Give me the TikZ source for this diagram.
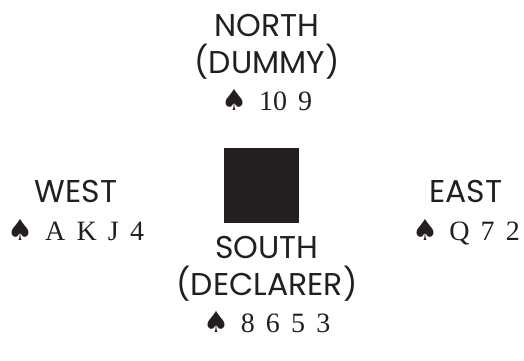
\documentclass[tikz,border=0pt]{standalone}
\usepackage{fontspec}
\usepackage{tikz}
\usetikzlibrary{positioning}
\newfontfamily\seatfont{Poppins}
\newfontfamily\rankfont[WordSpace=1.6]{Liberation Serif}
\newfontfamily\suitfont{DejaVu Sans}
\definecolor{tableInk}{HTML}{231F20}
\newcommand{\spadeMark}{{\suitfont\fontsize{29}{37}\selectfont\char"2660}}
\newcommand{\hand}[1]{{\rankfont\fontsize{28}{37}\selectfont\spadeMark\ #1}}
\tikzset{
  seatLabel/.style={
    align=center,
    text=tableInk,
    inner sep=0pt,
    font=\seatfont\fontsize{31.5}{37}\selectfont
  },
  tableBox/.style={
    fill=tableInk,
    draw=none,
    minimum size=75pt,
    inner sep=0pt
  }
}
\begin{document}
\begin{tikzpicture}[x=1pt, y=-1pt]
    \useasboundingbox (0,0) rectangle (524,360);
    \node[tableBox] (table) at (261.5,185) {};

    % last line of each node sits on the given baseline
    \node[seatLabel, anchor=base] (north) at (267,110)
      {NORTH\\(DUMMY)\\\hand{10 9}};
    \node[seatLabel, anchor=base] (west) at (76,240)
      {WEST\\[1pt]\hand{A K J 4}};
    \node[seatLabel, anchor=base] (east) at (466,240)
      {EAST\\[1pt]\hand{Q 7 2}};
    \node[seatLabel, anchor=base] (south) at (267,332)
      {SOUTH\\(DECLARER)\\\hand{8 6 5 3}};
\end{tikzpicture}
\end{document}
